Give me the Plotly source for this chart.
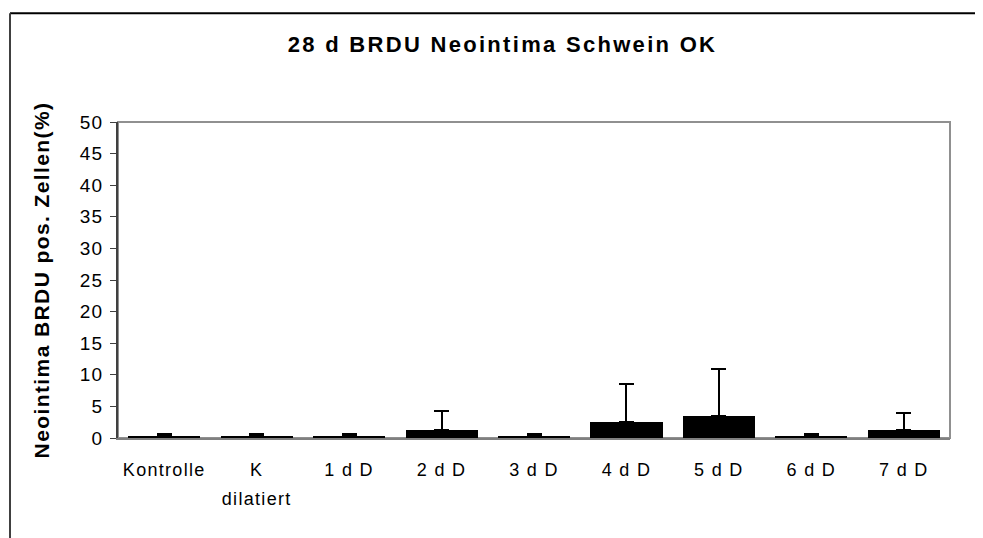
import plotly.graph_objects as go

# ---- data ----
categories = ["Kontrolle", "K<br>dilatiert", "1 d D", "2 d D", "3 d D", "4 d D", "5 d D", "6 d D", "7 d D"]
means = [0.3, 0.3, 0.3, 1.3, 0.3, 2.55, 3.45, 0.3, 1.3]
errors = [0.3, 0.3, 0.3, 3.05, 0.3, 5.95, 7.5, 0.3, 2.7]
y_ticks = [0, 5, 10, 15, 20, 25, 30, 35, 40, 45, 50]
title_text = "28 d BRDU Neointima Schwein OK"
y_title = "Neointima BRDU pos. Zellen(%)"

FONT = "Liberation Sans, Arial, sans-serif"
# page body has an 8px default margin; figure is sized to fit the 983x538 window
W, H = 975, 530
ML, MR, MT, MB = 110, 33, 114, 99.5
PW, PH = W - ML - MR, H - MT - MB


def sp(t, ls, size=None):
    st = f"letter-spacing:{ls}px"
    if size:
        st += f";font-size:{size}px"
    return f"<span style='{st}'>" + t.replace("<br>", f"</span><br><span style='{st}'>") + "</span>"


def px_x(p):
    return (p - ML) / PW


def px_y(p):
    return (H - MB - p) / PH


xlabels = [sp(c, 1.3, 18) for c in categories]

fig = go.Figure()
fig.add_trace(go.Bar(
    x=list(range(len(categories))), y=means,
    width=0.78,
    marker=dict(color="black", line=dict(width=0)),
    error_y=dict(type="data", array=errors, arrayminus=[0] * len(errors), symmetric=False,
                 color="black", thickness=2, width=7.5),
    showlegend=False, hoverinfo="skip",
))

fig.update_layout(
    width=W, height=H,
    margin=dict(l=ML, r=MR, t=MT, b=MB, autoexpand=False),
    paper_bgcolor="white", plot_bgcolor="white",
    font=dict(family=FONT, color="black", size=18),
    title=dict(text="<b>" + sp(title_text, 2.3) + "</b>", x=494.5 / W, xanchor="center",
               y=1 - 36 / H, yanchor="middle", font=dict(size=22, family=FONT, color="black")),
    bargap=0,
    xaxis=dict(
        range=[-0.5, len(categories) - 0.5],
        tickmode="array", tickvals=list(range(len(categories))), ticktext=xlabels,
        showgrid=False, zeroline=False,
        showline=True, linecolor="#808080", linewidth=2,
        ticks="", tickfont=dict(size=22, family=FONT),
        ticklabelstandoff=10,
    ),
    xaxis2=dict(
        overlaying="x", range=[-0.5, len(categories) - 0.5],
        tickmode="array", tickvals=[i - 0.5 for i in range(len(categories) + 1)],
        showticklabels=False, showgrid=False, zeroline=False, showline=False,
        ticks="inside", ticklen=4, tickcolor="#808080", tickwidth=2,
    ),
    xaxis3=dict(
        overlaying="x", range=[-0.5, len(categories) - 0.5],
        tickmode="array", tickvals=[i - 0.5 for i in range(len(categories) + 1)],
        showticklabels=False, showgrid=False, zeroline=False, showline=False,
        ticks="outside", ticklen=7, tickcolor="#808080", tickwidth=2,
    ),
    yaxis=dict(
        range=[0, 50], tickmode="array", tickvals=y_ticks,
        ticktext=[sp(str(v), 1.2) for v in y_ticks],
        showgrid=False, zeroline=False,
        showline=True, linecolor="#404040", linewidth=2,
        ticks="outside", ticklen=6, tickcolor="#404040", tickwidth=1,
        tickfont=dict(size=19, family=FONT),
        ticklabelstandoff=3,
        title=dict(text="<b>" + sp(y_title, 1.4) + "</b>", font=dict(size=21, family=FONT), standoff=24),
    ),
    yaxis2=dict(
        overlaying="y", range=[0, 50], tickmode="array", tickvals=y_ticks,
        showticklabels=False, showgrid=False, zeroline=False, showline=False,
        ticks="inside", ticklen=6, tickcolor="#404040", tickwidth=1,
    ),
    shapes=[
        # plot area border (top/right in grey)
        dict(type="rect", xref="paper", yref="paper", x0=0, x1=1, y0=0, y1=1,
             line=dict(color="#909090", width=2), layer="below"),
        # outer chart frame
        dict(type="line", xref="paper", yref="paper", x0=px_x(2), x1=px_x(990), y0=px_y(5), y1=px_y(5),
             line=dict(color="black", width=2)),
        dict(type="line", xref="paper", yref="paper", x0=px_x(2), x1=px_x(2), y0=px_y(5), y1=px_y(545),
             line=dict(color="#404040", width=2)),
    ],
)

fig.write_html("out.html")
